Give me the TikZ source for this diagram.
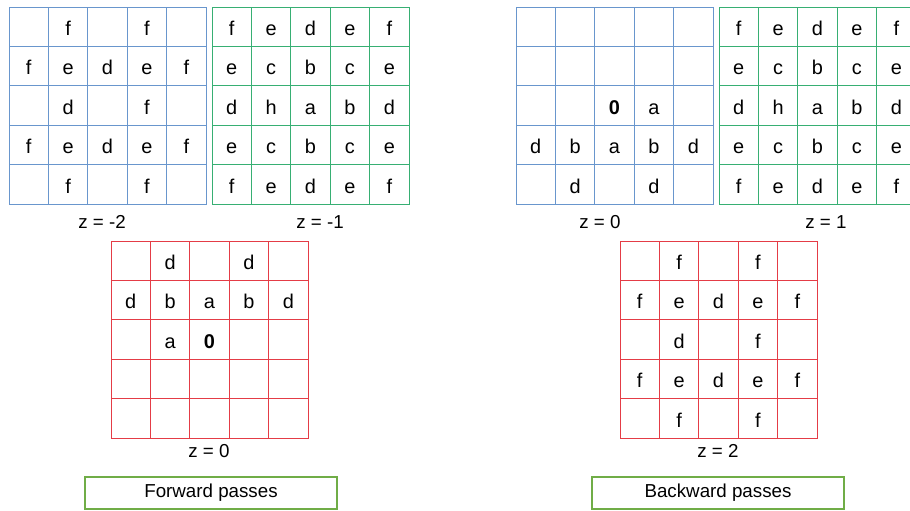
\documentclass[tikz,border=0pt]{standalone}
\usepackage{fontspec}
\setmainfont{Liberation Sans}

\definecolor{gridblue}{RGB}{105,150,205}
\definecolor{gridgreen}{RGB}{55,175,115}
\definecolor{gridred}{RGB}{228,60,70}
\definecolor{boxgreen}{RGB}{112,173,71}

\newcommand{\zero}{\textbf{0}}

% one 5x5 grid: name, left, top, colour, rows
\newcommand{\cellgrid}[5]{%
  \foreach \row [count=\r] in {#5}
    \foreach \c [count=\k] in \row
      \node[cell, draw=#4] (#1-\r-\k) at ({#2+(\k-0.5)*39.4},{#3+(\r-0.5)*39.4}) {\c};
}

\tikzset{
  cell/.style={minimum size=1.182cm, inner sep=0pt, outer sep=0pt, line width=0.6pt,
    font=\fontsize{17}{17}\selectfont, text height=15pt, text depth=0pt},
  zlabel/.style={anchor=base, inner sep=0pt, font=\fontsize{16}{16}\selectfont},
  passbox/.style={draw=boxgreen, line width=1.5pt, minimum width=7.56cm, minimum height=0.96cm,
    inner sep=0pt, font=\fontsize{16}{16}\selectfont},
}

\begin{document}
\begin{tikzpicture}[x=0.03cm, y=-0.03cm]
  \useasboundingbox (0,0) rectangle (910,511);
  \clip (0,0) rectangle (910,511);

  % forward passes
  \cellgrid{fa}{9}{7}{gridblue}{{{},f,{},f,{}},{f,e,d,e,f},{{},d,{},f,{}},{f,e,d,e,f},{{},f,{},f,{}}}
  \cellgrid{fb}{212}{7}{gridgreen}{{f,e,d,e,f},{e,c,b,c,e},{d,h,a,b,d},{e,c,b,c,e},{f,e,d,e,f}}
  \cellgrid{fc}{111}{241}{gridred}{{{},d,{},d,{}},{d,b,a,b,d},{{},a,\zero,{},{}},{{},{},{},{},{}},{{},{},{},{},{}}}

  \node[zlabel] (za) at (102,229) {z = -2};
  \node[zlabel] (zb) at (320,229) {z = -1};
  \node[zlabel] (zc) at (209,458) {z = 0};
  \node[passbox] (fwd) at (211,493) {Forward passes};

  % backward passes
  \cellgrid{ba}{516}{7}{gridblue}{{{},{},{},{},{}},{{},{},{},{},{}},{{},{},\zero,a,{}},{d,b,a,b,d},{{},d,{},d,{}}}
  \cellgrid{bb}{719}{7}{gridgreen}{{f,e,d,e,f},{e,c,b,c,e},{d,h,a,b,d},{e,c,b,c,e},{f,e,d,e,f}}
  \cellgrid{bc}{620}{241}{gridred}{{{},f,{},f,{}},{f,e,d,e,f},{{},d,{},f,{}},{f,e,d,e,f},{{},f,{},f,{}}}

  \node[zlabel] (zd) at (600,229) {z = 0};
  \node[zlabel] (ze) at (826,229) {z = 1};
  \node[zlabel] (zf) at (718,458) {z = 2};
  \node[passbox] (bwd) at (718,493) {Backward passes};
\end{tikzpicture}
\end{document}
